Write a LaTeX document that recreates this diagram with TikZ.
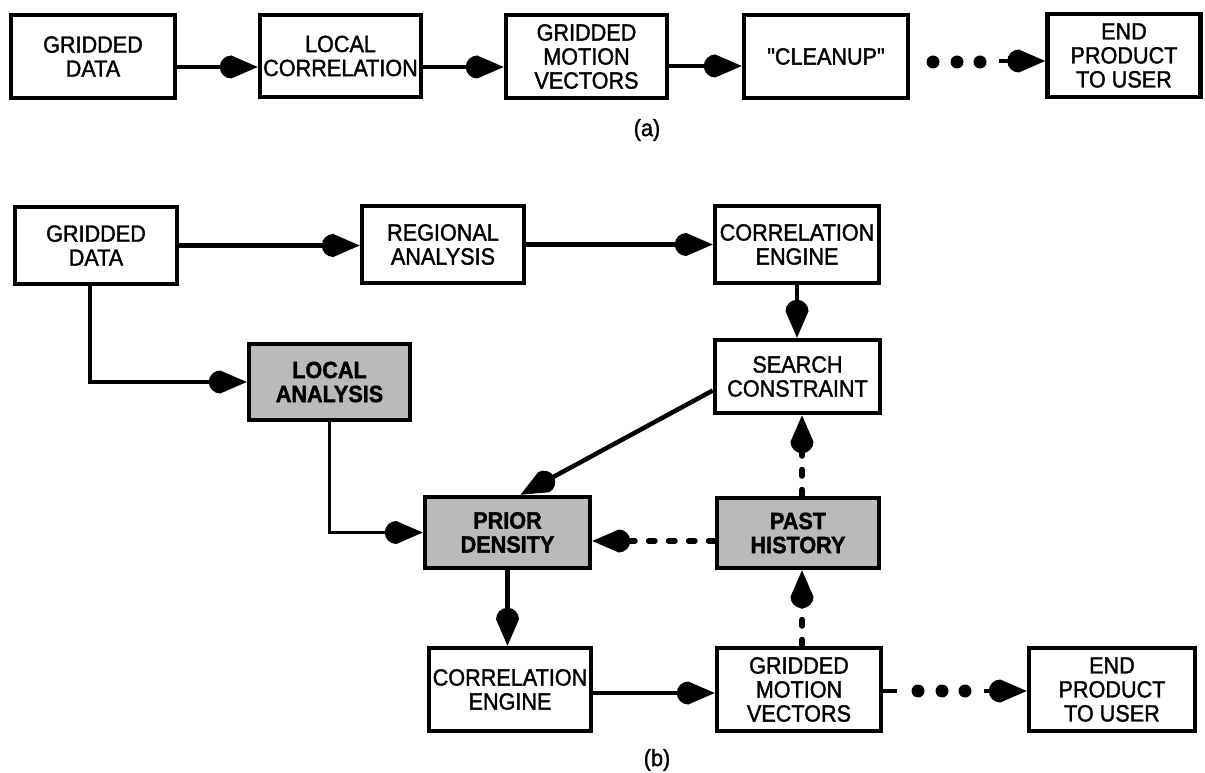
\documentclass[tikz,border=0pt]{standalone}
\usepackage{fontspec}
\setmainfont{Liberation Sans}[FakeStretch=0.92,FakeBold=1.5]
\newfontfamily\qfont{Liberation Sans}[FakeStretch=0.92,FakeBold=1.5,Ligatures=TeXOff]
\usetikzlibrary{arrows.meta,calc}
\pgfdeclarearrow{
  name = Drop,
  parameters = {\the\pgfarrowlength,\the\pgfarrowwidth},
  setup code = {
    \pgfarrowssettipend{\pgfarrowlength}
    \pgfarrowssetlineend{0.5\pgfarrowwidth}
    \pgfarrowssavethe\pgfarrowlength
    \pgfarrowssavethe\pgfarrowwidth
  },
  drawing code = {
    \pgfpathmoveto{\pgfpoint{\pgfarrowlength}{0pt}}
    \pgfpathlineto{\pgfpoint{0.5\pgfarrowwidth}{0.5\pgfarrowwidth}}
    \pgfpatharc{90}{270}{0.5\pgfarrowwidth}
    \pgfpathclose
    \pgfusepathqfill
  },
  defaults = {length=34pt, width=22pt}
}
\begin{document}
\begin{tikzpicture}[x=1pt,y=-1pt,
  txt/.style={font=\fontsize{23.5pt}{24pt}\selectfont},
  box/.style={txt, draw, line width=4.5pt, inner sep=0pt, align=center},
  shbox/.style={box, fill=black!27, font=\fontsize{23.5pt}{24pt}\selectfont\bfseries},
  conn/.style={line width=4.5pt, -{Drop[length=38pt,width=23pt]}},
  thinconn/.style={conn, line width=3.5pt},
  dotconn/.style={conn, line width=6pt, line cap=round, dash pattern=on 6pt off 14pt},
  stub/.style={line width=4pt},
  bigdot/.style={fill=black}]
\useasboundingbox (0,0) rectangle (1205,773);

% ---------- (a) ----------
\node[box, minimum width=164pt, minimum height=83pt] (gdA)  at (93,56.5)    {GRIDDED\\DATA};
\node[box, minimum width=161pt, minimum height=82pt] (lcA)  at (340.5,56)   {LOCAL\\CORRELATION};
\node[box, minimum width=161pt, minimum height=83pt] (gmvA) at (586.5,56.5) {GRIDDED\\MOTION\\VECTORS};
\node[box, minimum width=164pt, minimum height=83pt] (clA)  at (826,56.5)   {\qfont "CLEANUP"};
\node[box, minimum width=153pt, minimum height=83pt] (endA) at (1124,55.5)  {END\\PRODUCT\\TO USER};
\node[txt] (labA) at (647,130) {(a)};

\draw[conn] ([yshift=-10.5pt]gdA.east) -- ([yshift=-10.5pt]gdA.east -| lcA.west);
\draw[conn] ([yshift=-11pt]lcA.east) -- ([yshift=-11pt]lcA.east -| gmvA.west);
\draw[thinconn] ([yshift=-9.5pt]gmvA.east) -- ([yshift=-9.5pt]gmvA.east -| clA.west);
\fill[bigdot] (933,62) circle[radius=6.5pt];
\fill[bigdot] (957,62) circle[radius=6.5pt];
\fill[bigdot] (980,62) circle[radius=6.5pt];
\coordinate (a1) at (999,61);
\draw[conn] (a1) -- (a1 -| endA.west);

% ---------- (b) ----------
\node[box, minimum width=162pt, minimum height=77pt] (gdB)  at (96,245.5)   {GRIDDED\\DATA};
\node[box, minimum width=162pt, minimum height=77pt] (regB) at (443,244.5)  {REGIONAL\\ANALYSIS};
\node[box, minimum width=164pt, minimum height=77pt] (ceT)  at (797,244.5)  {CORRELATION\\ENGINE};
\node[box, minimum width=165pt, minimum height=73pt] (srB)  at (797.5,376.5){SEARCH\\CONSTRAINT};
\node[shbox, minimum width=161pt, minimum height=76pt] (locB) at (329.5,382) {LOCAL\\ANALYSIS};
\node[shbox, minimum width=165pt, minimum height=71pt] (priB) at (507.5,532.5){PRIOR\\DENSITY};
\node[shbox, minimum width=162pt, minimum height=70pt] (pstB) at (798,533)  {PAST\\HISTORY};
\node[box, minimum width=162pt, minimum height=83pt] (ceB)  at (510,689.5)  {CORRELATION\\ENGINE};
\node[box, minimum width=164pt, minimum height=83pt] (gmvB) at (799,689.5)  {GRIDDED\\MOTION\\VECTORS};
\node[box, minimum width=166pt, minimum height=83pt] (endB) at (1112,689.5) {END\\PRODUCT\\TO USER};
\node[txt] (labB) at (657,760) {(b)};

\draw[conn] (gdB.east) -- (gdB.east -| regB.west);
\draw[conn] (regB.east) -- (regB.east -| ceT.west);
\draw[conn] (ceT.south) -- (ceT.south |- srB.north);
\draw[conn] ([xshift=-6pt]gdB.south) |- (locB.west);
\draw[thinconn] (locB.south) |- (priB.west);
\draw[conn] ([yshift=-14pt]srB.west) -- ([xshift=13pt]priB.north);
\draw[dotconn] ([yshift=-8pt]pstB.west) -- ([yshift=-8pt]pstB.west -| priB.east);
\draw[conn] (priB.south) -- (priB.south |- ceB.north);
\draw[thinconn] ([yshift=-3.5pt]ceB.east) -- ([yshift=-3.5pt]ceB.east -| gmvB.west);
\draw[dotconn] ([xshift=3pt]gmvB.north) -- ([xshift=3pt]gmvB.north |- pstB.south);
\draw[dotconn] ([xshift=4pt]pstB.north) -- ([xshift=4pt]pstB.north |- srB.south);
\coordinate (b1) at (897,691);
\draw[stub] (b1 -| gmvB.east) -- (b1);
\fill[bigdot] (918,691) circle[radius=6.5pt];
\fill[bigdot] (942,691) circle[radius=6.5pt];
\fill[bigdot] (965,691) circle[radius=6.5pt];
\coordinate (b2) at (984,691);
\draw[conn] (b2) -- (b2 -| endB.west);
\end{tikzpicture}
\end{document}
